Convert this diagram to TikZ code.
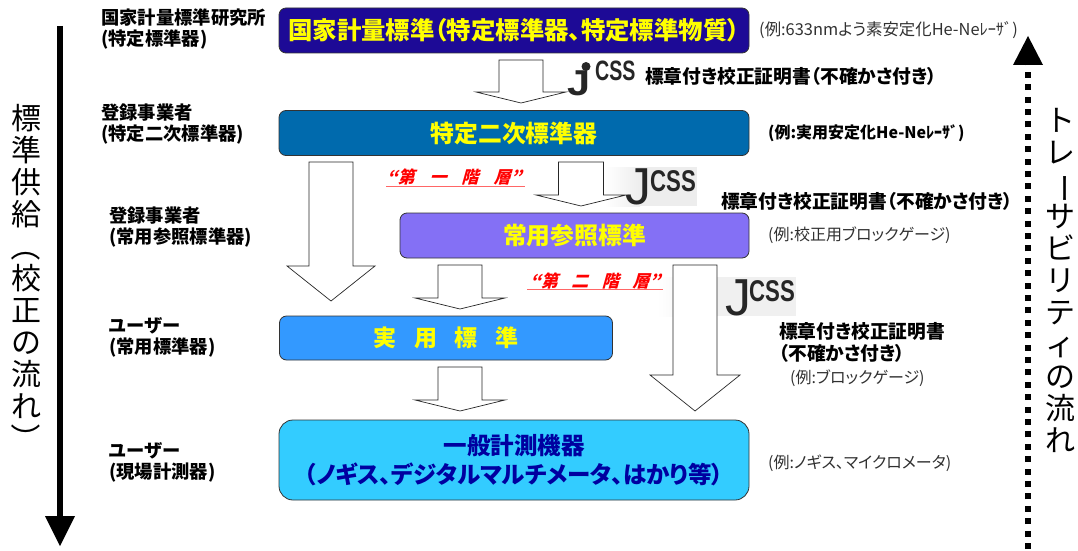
\documentclass[tikz,border=0pt]{standalone}
\usepackage{fontspec}
\usepackage{graphicx}
\setmainfont[RawFeature=+palt]{Noto Sans CJK JP}
\newfontfamily\fullfont{Noto Sans CJK JP}
\newfontfamily\redfont[FakeSlant=0.28]{Noto Sans CJK JP}
\newfontfamily\logofont{Liberation Sans}
\usetikzlibrary{calc}
\definecolor{boxA}{HTML}{1D0A96}
\definecolor{boxB}{HTML}{006AAD}
\definecolor{boxC}{HTML}{8470F5}
\definecolor{boxD}{HTML}{3399FF}
\definecolor{boxE}{HTML}{33CCFF}
\definecolor{txtE}{HTML}{0000A0}
\definecolor{yel}{HTML}{FFFF00}
\definecolor{exgray}{HTML}{303030}
\newcommand{\fs}[2]{\fontsize{#1}{#2}\selectfont}
\newcommand{\rotglyph}[1]{\smash{\rotatebox[origin=c]{-90}{#1}}}
\newcommand{\lowered}[1]{\raisebox{-1.5pt}{#1}}
\newcommand{\blockarrow}[6]{% tipx, halfshaft, top, shoulder, tip, halfhead
  \draw[blockar] (#1-#2,#3) -- (#1+#2,#3) -- (#1+#2,#4) -- (#1+#6,#4) -- (#1,#5) -- (#1-#6,#4) -- (#1-#2,#4) -- cycle;}
\tikzset{
  stdbox/.style={draw=black!80,line width=0.8pt,rounded corners=7pt,inner sep=0pt,align=center},
  blockar/.style={draw=black!85,fill=white,line width=0.7pt,line join=miter},
  lab/.style={anchor=west,inner sep=0pt,align=left,font=\bfseries\fs{18.3}{21}},
  cert/.style={anchor=west,inner sep=0pt,align=left,font=\bfseries\fs{18.7}{22}},
  ex/.style={anchor=west,inner sep=0pt,text=exgray,font=\fs{16}{16}},
  vert/.style={inner sep=0pt,align=center,font=\fullfont\fs{30}{32}},
  tier/.style={anchor=center,inner sep=0pt,text=red,font=\redfont\bfseries\fs{17}{18}},
  logotxt/.style={inner sep=0pt,font=\logofont,text=black!85},
}
\begin{document}
\begin{tikzpicture}[x=1pt,y=-1pt]
\useasboundingbox (0,0) rectangle (1078,551);

% logo backgrounds
\fill[left color=white,right color=black!7,draw=none] (605,167) rectangle (640,206);
\fill[black!7] (640,167) rectangle (697,206);
\fill[left color=white,right color=black!7,draw=none] (657,277) rectangle (717,316);
\fill[black!6] (717,277) rectangle (796,316);

% main boxes
\node[stdbox,fill=boxA,minimum width=470pt,minimum height=45pt,text=yel,font=\bfseries\fs{24.4}{26}] (b1) at (514,30.5) {\lowered{国家計量標準（特定標準器、特定標準物質）}};
\node[stdbox,fill=boxB,minimum width=470pt,minimum height=45pt,text=yel,font=\bfseries\fs{23.8}{26}] (b2) at (514,133) {\lowered{特定二次標準器}};
\node[stdbox,fill=boxC,minimum width=349pt,minimum height=45pt,text=yel,font=\bfseries\fs{23.8}{26}] (b3) at (574.5,235.5) {\lowered{常用参照標準}};
\node[stdbox,fill=boxD,minimum width=333pt,minimum height=44pt,text=yel,font=\bfseries\fs{23}{26}] (b4) at (446,338) {\lowered{実\hspace{17.5pt}用\hspace{17.5pt}標\hspace{17.5pt}準}};
\node[stdbox,rounded corners=14pt,fill=boxE,minimum width=470pt,minimum height=80pt,text=txtE,font=\bfseries\fs{23.5}{29}] (b5) at (514,460) {一般計測機器\\（ノギス、デジタルマルチメータ、はかり等）};

% block arrows
\blockarrow{521}{22}{60}{92}{103}{45}
\blockarrow{331}{22}{162}{266}{301}{44}
\blockarrow{581}{22.5}{162}{195}{206}{45}
\blockarrow{460}{22}{265}{298}{309}{45}
\blockarrow{460}{22}{367}{400}{411}{45}
\blockarrow{695}{22}{265}{375}{411}{45}

% logos
\node[logotxt,font=\logofont\bfseries\fs{36}{36}] (logoAj) at (579,83) {\scalebox{1.15}[1]{J}};
\fill[black!85] (586,66.5) circle (4.5pt);
\node[logotxt,anchor=west,font=\logofont\bfseries\fs{28}{28}] (logoAc) at (595,71) {\scalebox{.7}[1]{CSS}};
\node[logotxt,font=\logofont\fs{52}{52}] (logoBj) at (638,187) {J};
\node[logotxt,anchor=west,font=\logofont\bfseries\fs{30}{30}] (logoBc) at (650,181) {\scalebox{.74}[1]{CSS}};
\node[logotxt,font=\logofont\fs{52}{52}] (logoCj) at (738,298) {J};
\node[logotxt,anchor=west,font=\logofont\bfseries\fs{30}{30}] (logoCc) at (749,291) {\scalebox{.74}[1]{CSS}};

% left labels
\node[lab] (l1) at (101,29) {国家計量標準研究所\\(特定標準器)};
\node[lab] (l2) at (101,124) {登録事業者\\(特定二次標準器)};
\node[lab] (l3) at (109,227) {登録事業者\\(常用参照標準器)};
\node[lab] (l4) at (109,337) {ユーザー\\(常用標準器)};
\node[lab] (l5) at (109,462) {ユーザー\\(現場計測器)};

% right labels
\node[ex,font=\fs{16.4}{17}] (e1) at (759,30) {(例:633nmよう素安定化He-Neﾚｰｻﾞ)};
\node[ex,font=\bfseries\fs{16}{16},text=black] (e2) at (768,133) {(例:実用安定化He-Neﾚｰｻﾞ)};
\node[ex] (e3) at (768,235) {(例:校正用ブロックゲージ)};
\node[ex] (e4) at (790,378) {(例:ブロックゲージ)};
\node[ex] (e5) at (768,463) {(例:ノギス、マイクロメータ)};
\node[cert] (c1) at (645,76) {標章付き校正証明書（不確かさ付き）};
\node[cert] (c2) at (721,201) {標章付き校正証明書（不確かさ付き）};
\node[cert] (c3) at (779,342) {標章付き校正証明書\\（不確かさ付き）};

% tier labels
\node[tier] (t1) at (454,177) {“第\hspace{15pt}一\hspace{15pt}階\hspace{15pt}層”};
\node[tier] (t2) at (595,280.5) {“第\hspace{13.5pt}二\hspace{13.5pt}階\hspace{13.5pt}層”};
\draw[red!60,line width=1pt] (386,186.5) -- (525,186.5);
\draw[red!60,line width=1pt] (527,289.5) -- (663,289.5);

% side flows
\node[vert] (vl) at (26,277) {標\\準\\供\\給\\\rotglyph{（}\\校\\正\\の\\流\\れ\\\rotglyph{）}};
\node[vert] (vr) at (1060,280) {ト\\レ\\\rotglyph{ー}\\サ\\ビ\\リ\\テ\\ィ\\の\\流\\れ};

\coordinate (dnS) at (60,26);
\coordinate (dnE) at (60,517);
\coordinate (dnT) at (60,546);
\draw[line width=6pt] (dnS) -- (dnE);
\fill[black] (45,516) -- (75,516) -- (dnT) -- cycle;

\coordinate (upS) at (1028,549);
\coordinate (upE) at (1028,64);
\coordinate (upT) at (1028,36);
\draw[line width=6pt,dash pattern=on 6pt off 6.4pt] (upS) -- (upE);
\fill[black] (1013,65) -- (1043,65) -- (upT) -- cycle;
\end{tikzpicture}
\end{document}
